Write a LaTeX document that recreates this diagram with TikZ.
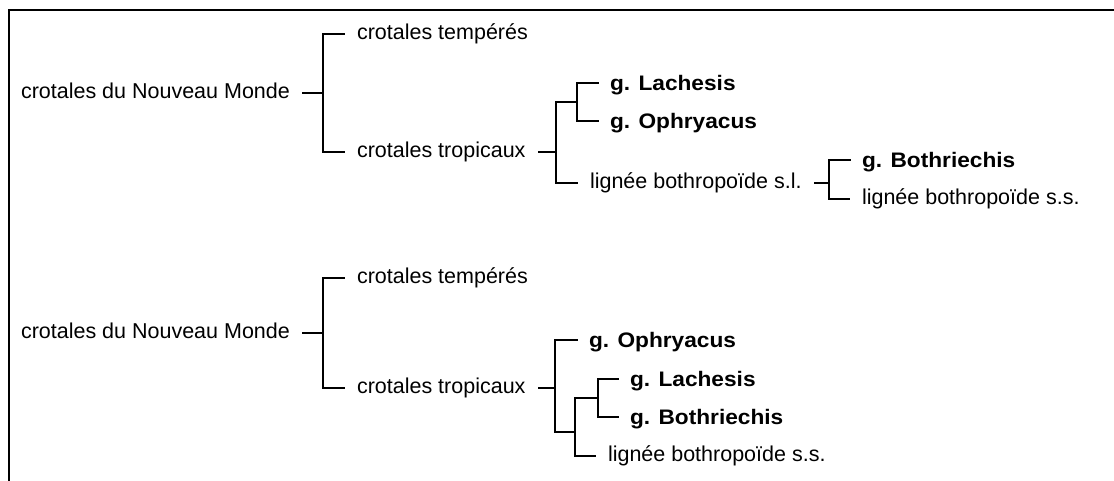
\documentclass[tikz,border=0pt]{standalone}
\usepackage{fontspec}
\setmainfont{Liberation Sans}
\newfontfamily\widebold{Liberation Sans}[FakeStretch=1.08]
\begin{document}
\begin{tikzpicture}[x=1pt,y=-1pt,
  lbl/.style={anchor=west,inner sep=0pt,outer xsep=13pt,outer ysep=0pt,
    font=\fontsize{21.5}{24}\selectfont,text height=13.2pt,text depth=2pt},
  blbl/.style={lbl,outer xsep=12pt,font=\fontsize{21}{24}\widebold\bfseries,text height=17.6pt,text depth=2pt},
  conn/.style={line width=1.8pt,line join=miter,line cap=rect},
  frame/.style={line width=2pt}]
\useasboundingbox (0,0) rectangle (1114,481);
\coordinate (f0) at (9,10);
\coordinate (f1) at (1114,10);
\coordinate (f2) at (9,481);
\draw[frame] (f1) -- (f0) -- (f2);

% ---- top tree ----
\node[lbl] (root1) at (8,93) {crotales du Nouveau Monde};
\node[lbl] (temp1) at (344,34) {crotales tempérés};
\node[lbl] (trop1) at (344,152) {crotales tropicaux};
\node[blbl] (lach1) at (598,83) {g. Lachesis};
\node[blbl] (ophr1) at (598,121) {g. Ophryacus};
\node[lbl] (sl1) at (577,183) {lignée bothropoïde s.l.};
\node[blbl] (both1) at (850,160) {g. Bothriechis};
\node[lbl] (ss1) at (849,199) {lignée bothropoïde s.s.};
\coordinate (j1) at (323,93);
\coordinate (j2) at (556,152);
\coordinate (j3) at (577,102);
\coordinate (j4) at (829,183);
\draw[conn] (root1.east) -- (j1);
\draw[conn] (temp1.west) -| (j1);
\draw[conn] (trop1.west) -| (j1);
\draw[conn] (trop1.east) -- (j2);
\draw[conn] (j3) -| (j2);
\draw[conn] (sl1.west) -| (j2);
\draw[conn] (lach1.west) -| (j3);
\draw[conn] (ophr1.west) -| (j3);
\draw[conn] (sl1.east) -- (j4);
\draw[conn] (both1.west) -| (j4);
\draw[conn] (ss1.west) -| (j4);

% ---- bottom tree ----
\node[lbl] (root2) at (8,333) {crotales du Nouveau Monde};
\node[lbl] (temp2) at (344,278) {crotales tempérés};
\node[lbl] (trop2) at (344,388) {crotales tropicaux};
\node[blbl] (ophr2) at (577,340) {g. Ophryacus};
\node[blbl] (lach2) at (618,379) {g. Lachesis};
\node[blbl] (both2) at (618,417) {g. Bothriechis};
\node[lbl] (ss2) at (595,456) {lignée bothropoïde s.s.};
\coordinate (j5) at (323,333);
\coordinate (j6) at (555,388);
\coordinate (j7) at (575,432);
\coordinate (j8) at (598,398);
\draw[conn] (root2.east) -- (j5);
\draw[conn] (temp2.west) -| (j5);
\draw[conn] (trop2.west) -| (j5);
\draw[conn] (trop2.east) -- (j6);
\draw[conn] (ophr2.west) -| (j6);
\draw[conn] (j7) -| (j6);
\draw[conn] (j8) -| (j7);
\draw[conn] (ss2.west) -| (j7);
\draw[conn] (lach2.west) -| (j8);
\draw[conn] (both2.west) -| (j8);
\end{tikzpicture}
\end{document}
